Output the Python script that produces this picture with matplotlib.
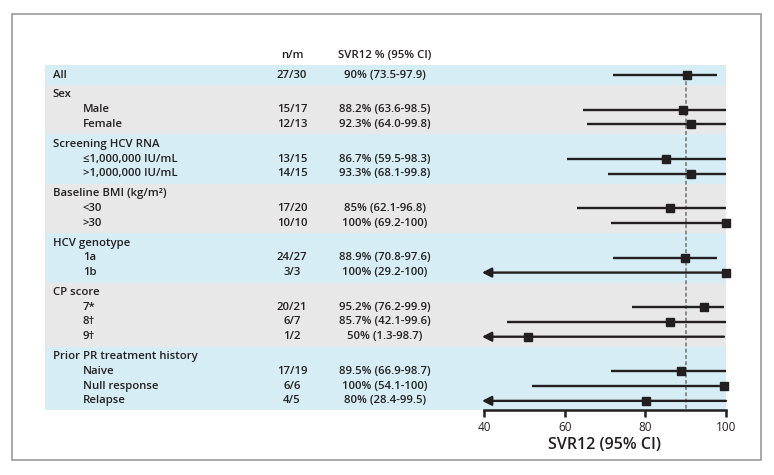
import numpy as np
import matplotlib
matplotlib.use("Agg")
import matplotlib.pyplot as plt
from matplotlib.patches import Rectangle

plt.rcParams['font.family'] = ['Open Sans', 'DejaVu Sans']

# rows of the forest plot, grouped
row_labels = ["All",
              "Sex", "Male", "Female",
              "Screening HCV RNA", "\u22641,000,000 IU/mL", ">1,000,000 IU/mL",
              "Baseline BMI (kg/m\u00b2)", "<30", ">30",
              "HCV genotype", "1a", "1b",
              "CP score", "7*", "8\u2020", "9\u2020",
              "Prior PR treatment history", "Naive", "Null response", "Relapse"]
row_level = [0, 0, 1, 1, 0, 1, 1, 0, 1, 1, 0, 1, 1, 0, 1, 1, 1, 0, 1, 1, 1]
group_sizes = [1, 3, 3, 3, 3, 4, 4]

nm = ["27/30", "", "15/17", "12/13", "", "13/15", "14/15", "", "17/20", "10/10",
      "", "24/27", "3/3", "", "20/21", "6/7", "1/2", "", "17/19", "6/6", "4/5"]
svr_text = ["90% (73.5-97.9)", "", "88.2% (63.6-98.5)", "92.3% (64.0-99.8)",
            "", "86.7% (59.5-98.3)", "93.3% (68.1-99.8)",
            "", "85% (62.1-96.8)", "100% (69.2-100)",
            "", "88.9% (70.8-97.6)", "100% (29.2-100)",
            "", "95.2% (76.2-99.9)", "85.7% (42.1-99.6)", "50% (1.3-98.7)",
            "", "89.5% (66.9-98.7)", "100% (54.1-100)", "80% (28.4-99.5)"]

# values as drawn in the plot panel
nan = np.nan
est = [90.3, nan, 89.3, 91.2, nan, 85.1, 91.2, nan, 86.1, 100, nan, 89.9, 100,
       nan, 94.5, 86.1, 51.0, nan, 88.8, 99.5, 80.2]
lo = [72.0, nan, 64.6, 65.6, nan, 60.5, 70.7, nan, 63.0, 71.4, nan, 71.9, 29.2,
      nan, 76.6, 45.6, 1.3, nan, 71.4, 52.0, 28.4]
hi = [97.8, nan, 100, 100, nan, 100, 100, nan, 100, 100, nan, 97.8, 100,
      nan, 99.5, 100, 99.5, nan, 100, 100, 100]
ref_value = 90
xticks = [40, 60, 80, 100]

blue = "#d6edf5"
grey = "#e8e8e8"
ink = "#231f20"

# y positions: 1 per row, bigger step between groups
ypos = []
y = 0.0
for g, n in enumerate(group_sizes):
    if g > 0:
        y += 1.35
    for i in range(n):
        ypos.append(y)
        if i < n - 1:
            y += 1

W, H = 774, 475
fig = plt.figure(figsize=(W / 100, H / 100), dpi=100)
# outer frame
fig.patches.append(Rectangle((12 / W, 1 - 460 / H), 749 / W, 446 / H,
                             transform=fig.transFigure, fill=False,
                             edgecolor="#9a9a9a", lw=1.2))

ax = fig.add_axes([45 / W, 1 - 410 / H, 681 / W, 345 / H])
x_px = 60 / 242
ax.set_xlim(40 - (484 - 45) * x_px, 100)
top = ypos[0] - 0.68
bottom = ypos[-1] + 0.62
ax.set_ylim(bottom, top)

# group bands
start = 0
edges = [top]
for g, n in enumerate(group_sizes):
    end = start + n - 1
    if g < len(group_sizes) - 1:
        edges.append((ypos[end] + ypos[end + 1]) / 2)
    start += n
edges.append(bottom)
for g in range(len(group_sizes)):
    ax.axhspan(edges[g], edges[g + 1], color=blue if g % 2 == 0 else grey,
               lw=0, zorder=0)

# reference line
ax.vlines(ref_value, ypos[0], bottom, colors="#8a8a8a", linestyles=(0, (2, 1.2)),
          lw=1.4, zorder=1)

xmin_axis = xticks[0]
for i in range(len(row_labels)):
    if np.isnan(est[i]):
        continue
    yy = ypos[i]
    if lo[i] < xmin_axis:
        ax.annotate("", xy=(xmin_axis - 0.5, yy), xytext=(hi[i], yy),
                    arrowprops=dict(arrowstyle="-|>,head_length=0.55,head_width=0.28",
                                    lw=1.7, color=ink, shrinkA=0, shrinkB=0),
                    zorder=2)
    else:
        ax.plot([lo[i], hi[i]], [yy, yy], color=ink, lw=1.7, zorder=2,
                solid_capstyle="butt")
    ax.plot(est[i], yy, marker="s", ms=5.4, color=ink, zorder=3, clip_on=False)

# text columns
tr = ax.get_yaxis_transform()
fs = 8.2
for i, lab in enumerate(row_labels):
    xl = 0.0117 if row_level[i] == 0 else 0.0558
    ax.text(xl, ypos[i], lab, transform=tr, fontsize=fs, fontweight="semibold",
            color=ink, va="center", ha="left")
    if nm[i]:
        ax.text(0.3627, ypos[i], nm[i], transform=tr, fontsize=fs,
                fontweight="semibold", color=ink, va="center", ha="center")
        ax.text(0.4993, ypos[i], svr_text[i], transform=tr, fontsize=fs,
                fontweight="semibold", color=ink, va="center", ha="center")
yh = ypos[0] - 20 / 14.75
ax.text(0.3627, yh, "n/m", transform=tr, fontsize=fs, fontweight="semibold",
        color=ink, va="center", ha="center", clip_on=False)
ax.text(0.4993, yh, "SVR12 % (95% CI)", transform=tr, fontsize=fs,
        fontweight="semibold", color=ink, va="center", ha="center", clip_on=False)

# axis
for s in ["top", "right", "left"]:
    ax.spines[s].set_visible(False)
ax.spines["bottom"].set_bounds(xticks[0], xticks[-1])
ax.spines["bottom"].set_linewidth(1.8)
ax.spines["bottom"].set_color(ink)
ax.set_yticks([])
ax.set_xticks(xticks)
ax.tick_params(axis="x", length=5, width=1.8, color=ink, labelsize=8.5,
               labelcolor=ink, pad=3)
ax.text(70, bottom + 2.35, "SVR12 (95% CI)", fontsize=11.5, fontweight="semibold",
        color=ink, ha="center", va="center", clip_on=False)

fig.savefig("out.png", dpi=100)
